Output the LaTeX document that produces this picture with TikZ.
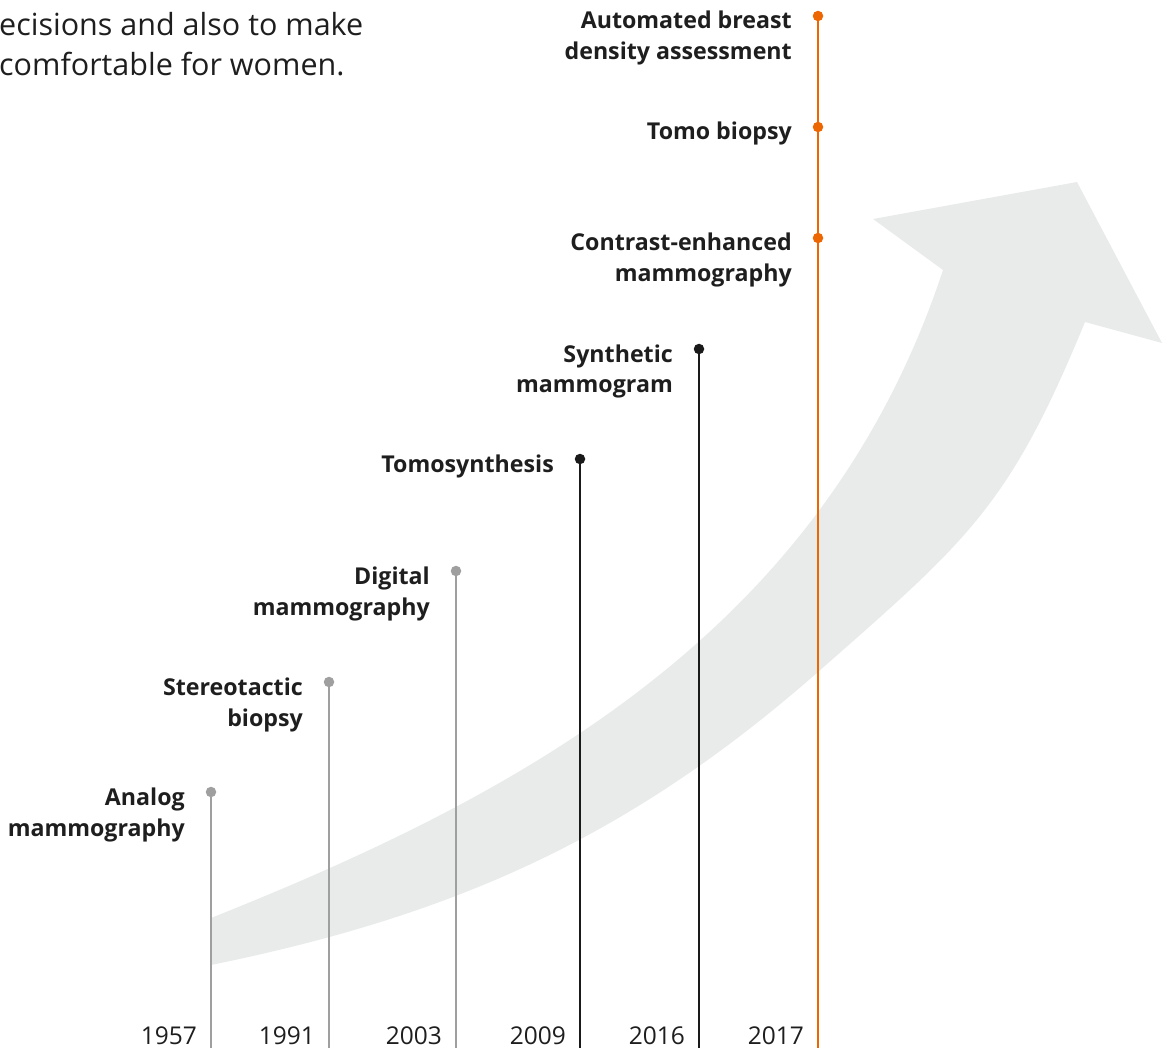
\documentclass[tikz,border=0pt]{standalone}
\usepackage{fontspec}
\setmainfont{Open Sans}
\usepackage{tikz}
\definecolor{milegray}{HTML}{9F9F9F}
\definecolor{mileblack}{HTML}{1A1A1A}
\definecolor{mileorange}{HTML}{EC6602}
\definecolor{arrowfill}{HTML}{E9EAEA}
\definecolor{inktext}{HTML}{1E1E1E}

\begin{document}
\begin{tikzpicture}[x=1pt, y=-1pt]
  \tikzset{
    milestone/.style={line width=2.9pt},
    mdot/.style={circle, inner sep=0pt, minimum size=10.5pt},
    mlabel/.style={anchor=base east, align=right, inner sep=0pt, text=inktext,
      font=\bfseries\fontsize{23.2}{31}\selectfont, xshift=-26pt},
    one line/.style={mlabel, yshift=-13pt},
    two lines/.style={mlabel, yshift=-44pt},
    year/.style={anchor=base east, inner sep=0pt, text=inktext,
      font=\fontsize{24.5}{25}\selectfont},
    intro/.style={anchor=base west, align=left, inner sep=0pt, text=inktext,
      font=\fontsize{30.5}{40}\selectfont}
  }
  \useasboundingbox (0,0) rectangle (1170,1048);
  \clip (0,0) rectangle (1170,1048);

  % big grey arrow behind the timeline
  \fill[arrowfill] (211,918) .. controls (527,792) and (824,630) .. (943,270)
    -- (873,219) -- (1077,182) -- (1162,343) -- (1085,322)
    .. controls (1009,507) and (968,540) .. (818,672)
    .. controls (630,837) and (456,915) .. (211,965) -- cycle;

  \node[intro] (intro) at (-1,76) {ecisions and also to make\\comfortable for women.};

  % one line per milestone
  \foreach \name/\x/\topy/\col/\yr in {analog/211/792/milegray/1957,
      stereo/329/682/milegray/1991, digital/456/571/milegray/2003,
      tomo/580/459/mileblack/2009, synth/699/349/mileblack/2016,
      auto/818/16/mileorange/2017} {
    \coordinate (\name-top) at (\x,\topy);
    \coordinate (\name-foot) at (\x,1048);
    \draw[milestone, draw=\col] (\name-top) -- (\name-foot);
    \node[mdot, fill=\col] (\name) at (\name-top) {};
    \node[year] (\name-year) at (\x-14,1044) {\yr};
  }
  \node[mdot, fill=mileorange] (biopsy) at (818,127) {};
  \node[mdot, fill=mileorange] (contrast) at (818,238) {};

  \node[two lines] (analog-label) at (analog) {Analog\\mammography};
  \node[two lines] (stereo-label) at (stereo) {Stereotactic\\biopsy};
  \node[two lines] (digital-label) at (digital) {Digital\\mammography};
  \node[one line] (tomo-label) at (tomo) {Tomosynthesis};
  \node[two lines] (synth-label) at (synth) {Synthetic\\mammogram};
  \node[two lines] (contrast-label) at (contrast) {Contrast-enhanced\\mammography};
  \node[one line] (biopsy-label) at (biopsy) {Tomo biopsy};
  \node[two lines] (auto-label) at (auto) {Automated breast\\density assessment};
\end{tikzpicture}
\end{document}
